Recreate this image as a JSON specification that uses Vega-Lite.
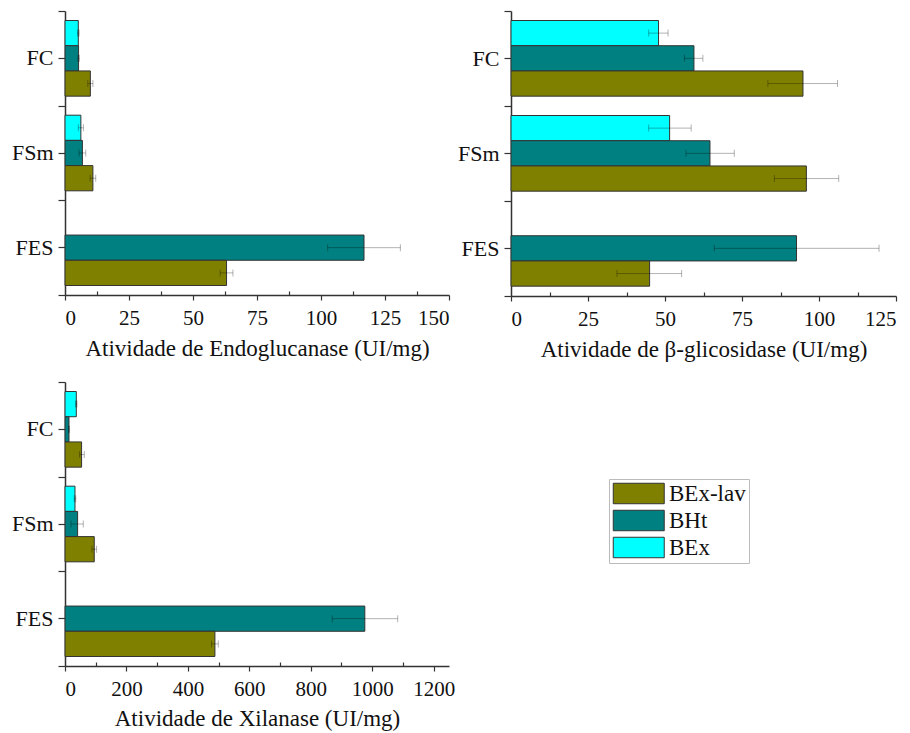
{
  "$schema": "https://vega.github.io/schema/vega-lite/v6.json",
  "padding": {"left": 11, "top": 10, "right": 5, "bottom": 5},
  "config": {
    "font": "'Liberation Serif', 'Times New Roman', Times, serif",
    "view": {"stroke": null},
    "axis": {
      "labelFont": "'Liberation Serif', 'Times New Roman', Times, serif", "titleFont": "'Liberation Serif', 'Times New Roman', Times, serif",
      "labelFontSize": 21, "titleFontSize": 23, "titleFontWeight": "normal",
      "domainColor": "#333", "tickColor": "#333", "labelColor": "#111", "titleColor": "#111",
      "domainWidth": 1.5, "tickWidth": 1.2, "grid": false
    },
    "legend": {"labelFont": "'Liberation Serif', 'Times New Roman', Times, serif"}
  },
  "columns": 2,
  "bounds": "flush",
  "spacing": {"row": 86, "column": 62},
  "resolve": {"legend": {"color": "independent"}},
  "concat": [
    {
      "width": 384, "height": 284,
      "data": {"values": [
        {"substrate": "FC", "extract": "BEx", "value": 5.2, "lo": 4.9, "hi": 5.5},
        {"substrate": "FC", "extract": "BHt", "value": 5.3, "lo": 5.0, "hi": 5.6},
        {"substrate": "FC", "extract": "BEx-lav", "value": 9.9, "lo": 8.9, "hi": 10.9},
        {"substrate": "FSm", "extract": "BEx", "value": 6.2, "lo": 5.2, "hi": 7.2},
        {"substrate": "FSm", "extract": "BHt", "value": 6.8, "lo": 5.5, "hi": 8.1},
        {"substrate": "FSm", "extract": "BEx-lav", "value": 10.9, "lo": 9.8, "hi": 12.0},
        {"substrate": "FES", "extract": "BHt", "value": 116.8, "lo": 102.6, "hi": 131.0},
        {"substrate": "FES", "extract": "BEx-lav", "value": 63.1, "lo": 60.6, "hi": 65.6}
      ]},
      "resolve": {"axis": {"x": "independent", "y": "independent"}},
      "layer": [
        {
          "mark": {"type": "bar", "stroke": "#333", "strokeWidth": 1},
          "encoding": {
            "y": {"field": "substrate", "type": "nominal", "sort": ["FC", "FSm", "FES"], "scale": {"paddingInner": 0, "paddingOuter": 0},
                  "axis": {"title": null, "orient": "left", "tickSize": 7, "labelPadding": 5, "labelFontSize": 22}},
            "yOffset": {"field": "extract", "type": "nominal", "sort": ["BEx", "BHt", "BEx-lav"], "scale": {"paddingInner": 0, "paddingOuter": 0.377}},
            "x": {"field": "value", "type": "quantitative", "scale": {"domain": [0, 150], "nice": false},
                  "axis": {"title": "Atividade de Endoglucanase (UI/mg)", "orient": "bottom", "values": [0, 25, 50, 75, 100, 125, 150], "format": "d", "tickSize": 5, "labelPadding": 7, "titlePadding": 9}},
            "color": {"field": "extract", "type": "nominal", "scale": {"domain": ["BEx-lav", "BHt", "BEx"], "range": ["#808000", "#008080", "#00FFFF"]}, "legend": null}
          }
        },
        {
          "mark": {"type": "rule", "color": "black", "opacity": 0.3, "strokeWidth": 1},
          "encoding": {
            "y": {"field": "substrate", "type": "nominal", "sort": ["FC", "FSm", "FES"],
                  "axis": {"title": null, "orient": "left", "tickBand": "extent", "labels": false, "domain": false, "tickSize": 7}},
            "yOffset": {"field": "extract", "type": "nominal", "sort": ["BEx", "BHt", "BEx-lav"]},
            "x": {"field": "lo", "type": "quantitative",
                  "axis": {"title": null, "orient": "bottom", "values": [12.5, 37.5, 62.5, 87.5, 112.5, 137.5], "labels": false, "domain": false, "tickSize": -4}},
            "x2": {"field": "hi"}
          }
        },
        {
          "mark": {"type": "tick", "color": "black", "opacity": 0.3, "size": 7, "thickness": 1},
          "encoding": {
            "y": {"field": "substrate", "type": "nominal", "sort": ["FC", "FSm", "FES"], "axis": null},
            "yOffset": {"field": "extract", "type": "nominal", "sort": ["BEx", "BHt", "BEx-lav"]},
            "x": {"field": "lo", "type": "quantitative", "axis": null}
          }
        },
        {
          "mark": {"type": "tick", "color": "black", "opacity": 0.3, "size": 7, "thickness": 1},
          "encoding": {
            "y": {"field": "substrate", "type": "nominal", "sort": ["FC", "FSm", "FES"], "axis": null},
            "yOffset": {"field": "extract", "type": "nominal", "sort": ["BEx", "BHt", "BEx-lav"]},
            "x": {"field": "hi", "type": "quantitative", "axis": null}
          }
        }
      ]
    },
    {
      "width": 385, "height": 285,
      "data": {"values": [
        {"substrate": "FC", "extract": "BEx", "value": 47.9, "lo": 44.7, "hi": 51.0},
        {"substrate": "FC", "extract": "BHt", "value": 59.4, "lo": 56.3, "hi": 62.3},
        {"substrate": "FC", "extract": "BEx-lav", "value": 94.8, "lo": 83.4, "hi": 106.0},
        {"substrate": "FSm", "extract": "BEx", "value": 51.5, "lo": 44.7, "hi": 58.5},
        {"substrate": "FSm", "extract": "BHt", "value": 64.6, "lo": 56.8, "hi": 72.5},
        {"substrate": "FSm", "extract": "BEx-lav", "value": 95.9, "lo": 85.5, "hi": 106.4},
        {"substrate": "FES", "extract": "BHt", "value": 92.7, "lo": 66.0, "hi": 119.5},
        {"substrate": "FES", "extract": "BEx-lav", "value": 45.0, "lo": 34.4, "hi": 55.4}
      ]},
      "resolve": {"axis": {"x": "independent", "y": "independent"}},
      "layer": [
        {
          "mark": {"type": "bar", "stroke": "#333", "strokeWidth": 1},
          "encoding": {
            "y": {"field": "substrate", "type": "nominal", "sort": ["FC", "FSm", "FES"], "scale": {"paddingInner": 0, "paddingOuter": 0},
                  "axis": {"title": null, "orient": "left", "tickSize": 7, "labelPadding": 5, "labelFontSize": 22}},
            "yOffset": {"field": "extract", "type": "nominal", "sort": ["BEx", "BHt", "BEx-lav"], "scale": {"paddingInner": 0, "paddingOuter": 0.377}},
            "x": {"field": "value", "type": "quantitative", "scale": {"domain": [0, 125], "nice": false},
                  "axis": {"title": "Atividade de β-glicosidase  (UI/mg)", "orient": "bottom", "values": [0, 25, 50, 75, 100, 125], "format": "d", "tickSize": 5, "labelPadding": 7, "titlePadding": 9}},
            "color": {"field": "extract", "type": "nominal", "scale": {"domain": ["BEx-lav", "BHt", "BEx"], "range": ["#808000", "#008080", "#00FFFF"]}, "legend": null}
          }
        },
        {
          "mark": {"type": "rule", "color": "black", "opacity": 0.3, "strokeWidth": 1},
          "encoding": {
            "y": {"field": "substrate", "type": "nominal", "sort": ["FC", "FSm", "FES"],
                  "axis": {"title": null, "orient": "left", "tickBand": "extent", "labels": false, "domain": false, "tickSize": 7}},
            "yOffset": {"field": "extract", "type": "nominal", "sort": ["BEx", "BHt", "BEx-lav"]},
            "x": {"field": "lo", "type": "quantitative",
                  "axis": {"title": null, "orient": "bottom", "values": [12.5, 37.5, 62.5, 87.5, 112.5], "labels": false, "domain": false, "tickSize": -4}},
            "x2": {"field": "hi"}
          }
        },
        {
          "mark": {"type": "tick", "color": "black", "opacity": 0.3, "size": 7, "thickness": 1},
          "encoding": {
            "y": {"field": "substrate", "type": "nominal", "sort": ["FC", "FSm", "FES"], "axis": null},
            "yOffset": {"field": "extract", "type": "nominal", "sort": ["BEx", "BHt", "BEx-lav"]},
            "x": {"field": "lo", "type": "quantitative", "axis": null}
          }
        },
        {
          "mark": {"type": "tick", "color": "black", "opacity": 0.3, "size": 7, "thickness": 1},
          "encoding": {
            "y": {"field": "substrate", "type": "nominal", "sort": ["FC", "FSm", "FES"], "axis": null},
            "yOffset": {"field": "extract", "type": "nominal", "sort": ["BEx", "BHt", "BEx-lav"]},
            "x": {"field": "hi", "type": "quantitative", "axis": null}
          }
        }
      ]
    },
    {
      "width": 384, "height": 284,
      "data": {"values": [
        {"substrate": "FC", "extract": "BEx", "value": 36.8, "lo": 34, "hi": 39},
        {"substrate": "FC", "extract": "BHt", "value": 13, "lo": 12, "hi": 14},
        {"substrate": "FC", "extract": "BEx-lav", "value": 54, "lo": 47.6, "hi": 62.8},
        {"substrate": "FSm", "extract": "BEx", "value": 32.5, "lo": 30, "hi": 35},
        {"substrate": "FSm", "extract": "BHt", "value": 41, "lo": 19.5, "hi": 59.5},
        {"substrate": "FSm", "extract": "BEx-lav", "value": 95.2, "lo": 87.6, "hi": 102.8},
        {"substrate": "FES", "extract": "BHt", "value": 976, "lo": 870, "hi": 1083},
        {"substrate": "FES", "extract": "BEx-lav", "value": 488, "lo": 477, "hi": 499}
      ]},
      "resolve": {"axis": {"x": "independent", "y": "independent"}},
      "layer": [
        {
          "mark": {"type": "bar", "stroke": "#333", "strokeWidth": 1},
          "encoding": {
            "y": {"field": "substrate", "type": "nominal", "sort": ["FC", "FSm", "FES"], "scale": {"paddingInner": 0, "paddingOuter": 0},
                  "axis": {"title": null, "orient": "left", "tickSize": 7, "labelPadding": 5, "labelFontSize": 22}},
            "yOffset": {"field": "extract", "type": "nominal", "sort": ["BEx", "BHt", "BEx-lav"], "scale": {"paddingInner": 0, "paddingOuter": 0.377}},
            "x": {"field": "value", "type": "quantitative", "scale": {"domain": [0, 1250], "nice": false},
                  "axis": {"title": "Atividade de Xilanase (UI/mg)", "orient": "bottom", "values": [0, 200, 400, 600, 800, 1000, 1200], "format": "d", "tickSize": 5, "labelPadding": 7, "titlePadding": 8}},
            "color": {"field": "extract", "type": "nominal", "scale": {"domain": ["BEx-lav", "BHt", "BEx"], "range": ["#808000", "#008080", "#00FFFF"]},
                      "legend": {"orient": "none", "legendX": 544, "legendY": 97, "title": null,
                                 "symbolType": "M-1,-1H3.976V1H-1Z", "symbolSize": 420,
                                 "symbolStrokeColor": "#333", "symbolStrokeWidth": 1, "symbolOpacity": 1,
                                 "labelFontSize": 23, "labelColor": "#111", "labelOffset": 34,
                                 "strokeColor": "#bbb", "padding": 3, "rowPadding": 2}}
          }
        },
        {
          "mark": {"type": "rule", "color": "black", "opacity": 0.3, "strokeWidth": 1},
          "encoding": {
            "y": {"field": "substrate", "type": "nominal", "sort": ["FC", "FSm", "FES"],
                  "axis": {"title": null, "orient": "left", "tickBand": "extent", "labels": false, "domain": false, "tickSize": 7}},
            "yOffset": {"field": "extract", "type": "nominal", "sort": ["BEx", "BHt", "BEx-lav"]},
            "x": {"field": "lo", "type": "quantitative",
                  "axis": {"title": null, "orient": "bottom", "values": [100, 300, 500, 700, 900, 1100], "labels": false, "domain": false, "tickSize": -4}},
            "x2": {"field": "hi"}
          }
        },
        {
          "mark": {"type": "tick", "color": "black", "opacity": 0.3, "size": 7, "thickness": 1},
          "encoding": {
            "y": {"field": "substrate", "type": "nominal", "sort": ["FC", "FSm", "FES"], "axis": null},
            "yOffset": {"field": "extract", "type": "nominal", "sort": ["BEx", "BHt", "BEx-lav"]},
            "x": {"field": "lo", "type": "quantitative", "axis": null}
          }
        },
        {
          "mark": {"type": "tick", "color": "black", "opacity": 0.3, "size": 7, "thickness": 1},
          "encoding": {
            "y": {"field": "substrate", "type": "nominal", "sort": ["FC", "FSm", "FES"], "axis": null},
            "yOffset": {"field": "extract", "type": "nominal", "sort": ["BEx", "BHt", "BEx-lav"]},
            "x": {"field": "hi", "type": "quantitative", "axis": null}
          }
        }
      ]
    }
  ]
}
